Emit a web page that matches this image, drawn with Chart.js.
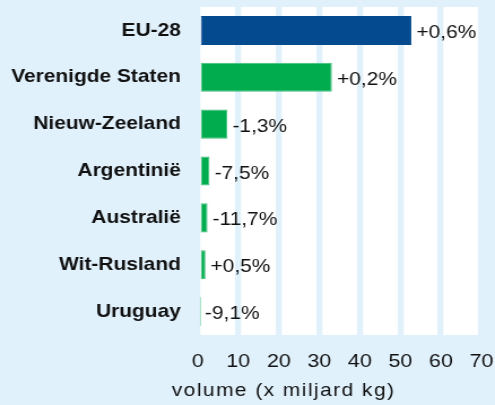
<!DOCTYPE html>
<html lang="nl">
<head>
<meta charset="utf-8">
<title>Volume per land</title>
<script src="https://cdn.jsdelivr.net/npm/chart.js@4.4.1/dist/chart.umd.min.js"></script>
<style>
  html, body { margin: 0; padding: 0; background: #E0F1FC; overflow: hidden; }
  #wrap { width: 495px; height: 405px; overflow: hidden; }
  /* the original graphic is stretched sideways, so the canvas is too */
  #chart { display: block; transform: scaleX(1.1301); transform-origin: 0 0; }
</style>
</head>
<body>
<div id="wrap"><canvas id="chart" width="438" height="405" style="width:438px;height:405px"></canvas></div>
<script>
const categories = ['EU-28', 'Verenigde Staten', 'Nieuw-Zeeland', 'Argentinië', 'Australië', 'Wit-Rusland', 'Uruguay'];
const volumes = [52.7, 33.1, 7.3, 2.9, 2.4, 1.9, 0.5];
const changes = ['+0,6%', '+0,2%', '-1,3%', '-7,5%', '-11,7%', '+0,5%', '-9,1%'];
const xTicks = [0, 10, 20, 30, 40, 50, 60, 70];
const axisTitle = 'volume (x miljard kg)';

const bg = '#E0F1FC';
const blue = '#034A8F';
const green = '#00AC4E';
const font = '"Liberation Sans", Arial, sans-serif';

// light blue page, white plot area
const plotBackground = {
    id: 'plotBackground',
    beforeDraw(chart) {
        const { ctx, chartArea: a } = chart;
        ctx.save();
        ctx.fillStyle = bg;
        ctx.fillRect(0, 0, chart.width, chart.height);
        ctx.fillStyle = '#ffffff';
        ctx.fillRect(a.left, a.top, a.right - a.left, a.bottom - a.top);
        ctx.restore();
    }
};

// percentage next to each bar + the axis title
const barLabels = {
    id: 'barLabels',
    afterDatasetsDraw(chart) {
        const ctx = chart.ctx;
        const meta = chart.getDatasetMeta(0);
        ctx.save();
        ctx.fillStyle = '#111111';
        ctx.font = '18.5px ' + font;
        ctx.textAlign = 'left';
        ctx.textBaseline = 'middle';
        meta.data.forEach((bar, i) => {
            ctx.fillText(changes[i], bar.x + 4.5, bar.y + 2.5);
        });

        ctx.font = '18.5px ' + font;
        if ('letterSpacing' in ctx) ctx.letterSpacing = '1.3px';
        ctx.textBaseline = 'alphabetic';
        ctx.fillText(axisTitle, 152, 396);
        ctx.restore();
    }
};

new Chart(document.getElementById('chart'), {
    type: 'bar',
    data: {
        labels: categories,
        datasets: [{
            data: volumes,
            backgroundColor: categories.map((c, i) => i === 0 ? blue : green),
            borderColor: categories.map((c, i) => i === 0 ? blue : '#3FC07C'),
            borderWidth: 1,
            borderSkipped: false,
            categoryPercentage: 1,
            barPercentage: 0.62
        }]
    },
    options: {
        indexAxis: 'y',
        responsive: false,
        animation: false,
        devicePixelRatio: 1,
        layout: { autoPadding: false, padding: { top: 7, right: 12, bottom: 0, left: 0 } },
        plugins: { legend: { display: false }, tooltip: { enabled: false } },
        scales: {
            x: {
                min: 0,
                max: 70,
                afterBuildTicks: scale => { scale.ticks = xTicks.map(v => ({ value: v })); },
                afterFit: scale => { scale.height = 70; },
                // tick marks share the page colour, so they only make room for the labels
                grid: { color: bg, lineWidth: 5.3, drawTicks: true, tickLength: 15 },
                border: { display: false },
                ticks: {
                    padding: 0,
                    color: '#111111',
                    font: { family: font, size: 19 }
                }
            },
            y: {
                afterFit: scale => { scale.width = 175; },
                grid: { display: true, drawOnChartArea: false, drawTicks: true, tickLength: 15, color: 'rgba(0,0,0,0)' },
                border: { display: false },
                ticks: {
                    padding: 0,
                    color: '#111111',
                    font: { family: font, size: 18.5, weight: 'bold', lineHeight: 0.6 }
                }
            }
        }
    },
    plugins: [plotBackground, barLabels]
});
</script>
</body>
</html>
